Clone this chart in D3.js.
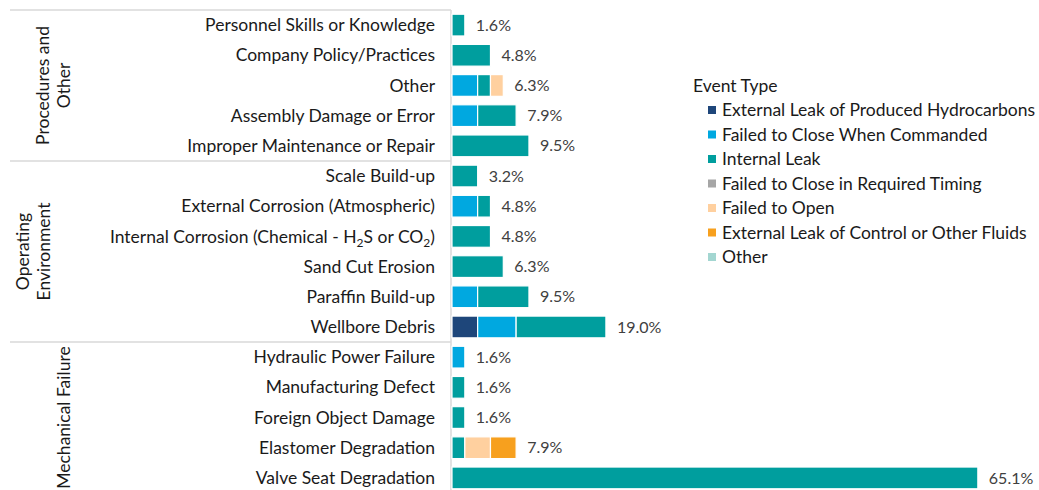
<!DOCTYPE html>
<html>
<head>
<meta charset="utf-8">
<script src="https://cdn.jsdelivr.net/npm/d3@7"></script>
<style>
  body { margin: 0; background: #fff; }
  svg { display: block; font-family: Lato, "Open Sans", sans-serif; }
</style>
</head>
<body>
<svg id="chart" width="1039" height="490"></svg>
<script>
// wells in the study; every percent is count / TOTAL
const TOTAL = 63;

const categories = [
  'Personnel Skills or Knowledge', 'Company Policy/Practices', 'Other',
  'Assembly Damage or Error', 'Improper Maintenance or Repair',
  'Scale Build-up', 'External Corrosion (Atmospheric)', 'Internal Corrosion',
  'Sand Cut Erosion', 'Paraffin Build-up', 'Wellbore Debris',
  'Hydraulic Power Failure', 'Manufacturing Defect', 'Foreign Object Damage',
  'Elastomer Degradation', 'Valve Seat Degradation'
];

const groups = [
  { lines: ['Procedures and', 'Other'], from: 0, to: 4 },
  { lines: ['Operating', 'Environment'], from: 5, to: 10 },
  { lines: ['Mechanical Failure'], from: 11, to: 15 }
];

const seriesNames = [
  'External Leak of Produced Hydrocarbons', 'Failed to Close When Commanded',
  'Internal Leak', 'Failed to Close in Required Timing', 'Failed to Open',
  'External Leak of Control or Other Fluids', 'Other'
];
const seriesColors = ['#1e467a', '#00a8e0', '#009e9e', '#a6a6a6', '#ffd09f', '#f7a01e', '#a3d6d1'];

// counts per category, one array per event type
const extLeakHC   = [0, 0, 0, 0, 0, 0, 0, 0, 0, 0, 2, 0, 0, 0, 0, 0];
const failClose   = [0, 0, 2, 2, 0, 0, 2, 0, 0, 2, 3, 1, 0, 0, 0, 0];
const internal    = [1, 3, 1, 3, 6, 2, 1, 3, 4, 4, 7, 0, 1, 1, 1, 41];
const closeTiming = [0, 0, 0, 0, 0, 0, 0, 0, 0, 0, 0, 0, 0, 0, 0, 0];
const failOpen    = [0, 0, 1, 0, 0, 0, 0, 0, 0, 0, 0, 0, 0, 0, 2, 0];
const extLeakCtl  = [0, 0, 0, 0, 0, 0, 0, 0, 0, 0, 0, 0, 0, 0, 2, 0];
const otherType   = [0, 0, 0, 0, 0, 0, 0, 0, 0, 0, 0, 0, 0, 0, 0, 0];
const seriesValues = [extLeakHC, failClose, internal, closeTiming, failOpen, extLeakCtl, otherType];

const svg = d3.select('#chart');
const plotLeft = 452, plotTop = 10;
const FS = 17.5;  // label font size

const rows = categories.map((c, i) => {
  const r = { cat: c };
  seriesNames.forEach((s, j) => { r[s] = seriesValues[j][i] / TOTAL * 100; });
  return r;
});
const stacked = d3.stack().keys(seriesNames)(rows);

const x = d3.scaleLinear().domain([0, 70]).range([plotLeft, plotLeft + 70 * 8.08]);
const y = d3.scaleBand().domain(categories).range([plotTop, 493]).paddingInner(0.28).paddingOuter(0.14);
const color = d3.scaleOrdinal().domain(seriesNames).range(seriesColors);

// grid / separators
const grey = '#d9d9d9';
svg.append('line').attr('x1', plotLeft - 1).attr('x2', plotLeft - 1)
  .attr('y1', plotTop).attr('y2', 490).attr('stroke', grey).attr('stroke-width', 1.5);
[0, 5, 11].forEach(i => {
  const yy = plotTop + i * y.step();
  svg.append('line').attr('x1', 10).attr('x2', plotLeft - 1)
    .attr('y1', yy).attr('y2', yy).attr('stroke', grey).attr('stroke-width', 1.5);
});

// bars
svg.append('g').selectAll('g').data(stacked).join('g')
  .attr('fill', d => color(d.key))
  .selectAll('rect').data(d => d.filter(p => p[1] > p[0])).join('rect')
  .attr('x', d => x(d[0]))
  .attr('y', d => y(d.data.cat))
  .attr('width', d => x(d[1]) - x(d[0]))
  .attr('height', y.bandwidth())
  .attr('stroke', '#fff').attr('stroke-width', 1.2);

// value labels
svg.append('g').selectAll('text').data(rows).join('text')
  .attr('x', (d, i) => x(d3.sum(seriesValues, s => s[i]) / TOTAL * 100) + 11)
  .attr('y', d => y(d.cat) + y.bandwidth() / 2)
  .attr('dy', '0.35em')
  .attr('font-size', 16).attr('fill', '#404040')
  .text((d, i) => (d3.sum(seriesValues, s => s[i]) / TOTAL * 100).toFixed(1) + '%');

// category labels
const catLabels = svg.append('g').selectAll('text').data(categories).join('text')
  .attr('x', 435)
  .attr('y', d => y(d) + y.bandwidth() / 2)
  .attr('dy', '0.35em')
  .attr('text-anchor', 'end')
  .attr('font-size', FS).attr('fill', '#1a1a1a');
catLabels.filter(d => d !== 'Internal Corrosion').text(d => d);
catLabels.filter(d => d === 'Internal Corrosion').each(function () {
  const t = d3.select(this);
  t.append('tspan').text('Internal Corrosion (Chemical - H');
  t.append('tspan').attr('font-size', 12).attr('dy', 4).text('2');
  t.append('tspan').attr('dy', -4).text('S or CO');
  t.append('tspan').attr('font-size', 12).attr('dy', 4).text('2');
  t.append('tspan').attr('dy', -4).text(')');
});

// group labels (rotated)
const groupX = [[43, 64], [23, 44], [64]];
groups.forEach((g, gi) => {
  const cy = (plotTop + g.from * y.step() + plotTop + (g.to + 1) * y.step()) / 2;
  g.lines.forEach((ln, li) => {
    const gx = groupX[gi][li];
    svg.append('text')
      .attr('transform', `translate(${gx},${cy}) rotate(-90)`)
      .attr('text-anchor', 'middle').attr('dy', '0.35em')
      .attr('font-size', FS).attr('fill', '#1a1a1a')
      .text(ln);
  });
});

// legend
const legend = svg.append('g').attr('transform', 'translate(693,0)');
legend.append('text').attr('x', 0).attr('y', 86).attr('dy', '0.35em')
  .attr('font-size', FS).attr('fill', '#1a1a1a').text('Event Type');
const item = legend.selectAll('g.item').data(seriesNames).join('g')
  .attr('class', 'item')
  .attr('transform', (d, i) => `translate(0,${110 + i * 24.5})`);
item.append('rect').attr('x', 15).attr('y', -4).attr('width', 8).attr('height', 8)
  .attr('fill', d => color(d));
item.append('text').attr('x', 29).attr('dy', '0.35em')
  .attr('font-size', FS).attr('fill', '#1a1a1a').text(d => d);
</script>
</body>
</html>
